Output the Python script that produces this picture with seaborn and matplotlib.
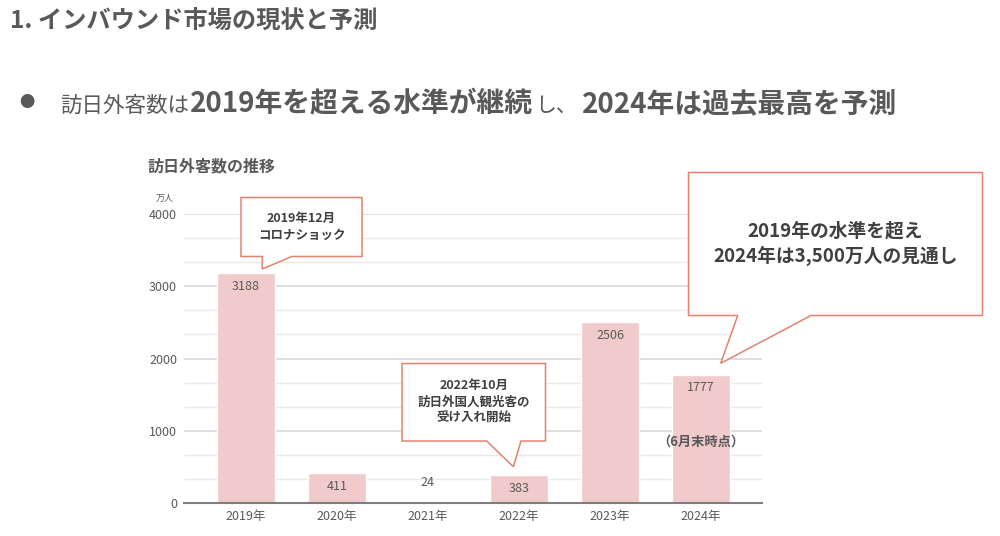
import matplotlib
matplotlib.use("Agg")
import matplotlib.pyplot as plt
import seaborn as sns
import pandas as pd
from matplotlib.patches import Polygon
from matplotlib.ticker import MultipleLocator

# ---- data ----
years = ["2019年", "2020年", "2021年", "2022年", "2023年", "2024年"]
visitors = [3188, 411, 24, 383, 2506, 1777]
y_ticks = [0, 1000, 2000, 3000, 4000]

title = "1. インバウンド市場の現状と予測"
headline_parts = ["訪日外客数は", "2019年を超える水準が継続", "し、", "2024年は過去最高を予測"]
chart_title = "訪日外客数の推移"
unit_label = "万人"
note_2024 = "（6月末時点）"
callout_texts = ["2019年12月\nコロナショック",
                 "2022年10月\n訪日外国人観光客の\n受け入れ開始",
                 "2019年の水準を超え\n2024年は3,500万人の見通し"]

# ---- style ----
sns.set_theme(style="white")
plt.rcParams["font.family"] = ["Noto Sans CJK JP", "DejaVu Sans"]

W, H = 1000, 536
fig = plt.figure(figsize=(W / 100, H / 100), dpi=100)
fig.patch.set_facecolor("white")

def fx(px):
    return px / W

def fy(py):
    return 1 - py / H

GREY = "#595959"
DARK = "#404040"
BAR = "#F1CBCC"
EDGE = "#E4826E"

ax = fig.add_axes([fx(184), fy(502.7), fx(762) - fx(184), (502.7 - 214.3) / H])
df = pd.DataFrame({"year": years, "visitors": visitors})
sns.barplot(data=df, x="year", y="visitors", color=BAR, saturation=1,
            width=0.64, ax=ax, zorder=2)
ax.set_xlim(-0.68, 5.67)
ax.set_ylim(0, 4000)
ax.set_yticks(y_ticks)
ax.yaxis.set_minor_locator(MultipleLocator(1000 / 3))
ax.grid(axis="y", which="major", color="#D9D9D9", lw=1.2, zorder=0)
ax.grid(axis="y", which="minor", color="#EAEAEA", lw=1.0, zorder=0)
ax.set_axisbelow(True)
for s in ["left", "right", "top"]:
    ax.spines[s].set_visible(False)
ax.spines["bottom"].set_color("#7F7F7F")
ax.spines["bottom"].set_linewidth(1.5)
ax.set_xlabel("")
ax.set_ylabel("")
ax.tick_params(axis="y", which="both", length=0, pad=5, labelsize=9, labelcolor=GREY)
ax.tick_params(axis="x", length=0, pad=5, labelsize=9, labelcolor=GREY)

for i, v in enumerate(visitors):
    if v < 100:
        ax.annotate(str(v), (i, v), xytext=(0, 13), textcoords="offset points",
                    ha="center", va="center", fontsize=9, color=GREY)
    else:
        ax.annotate(str(v), (i, v), xytext=(0, -9.5), textcoords="offset points",
                    ha="center", va="center", fontsize=9, color=GREY)

ax.text(5, 850, note_2024, ha="center", va="center", fontsize=9.5,
        fontweight="bold", color=GREY)

# ---- texts ----
fig.text(fx(10), fy(22), title, ha="left", va="center", fontsize=17.5,
         fontweight="bold", color=GREY)
fig.text(fx(26.7), fy(103), "●", ha="center", va="center", fontsize=11, color=GREY)
piece_x = [60, 190, 535, 582]
piece_size = [15.5, 20, 15, 20]
piece_weight = ["normal", "bold", "normal", "bold"]
for t, x, s, w in zip(headline_parts, piece_x, piece_size, piece_weight):
    fig.text(fx(x), fy(112), t, ha="left", va="baseline", fontsize=s,
             fontweight=w, color=GREY)

fig.text(fx(147), fy(166), chart_title, ha="left", va="center", fontsize=11.5,
         fontweight="bold", color=GREY)
fig.text(fx(165), fy(198), unit_label, ha="center", va="center", fontsize=6.5, color=GREY)

# ---- callouts ----
def callout(box, tail, text, size):
    x0, y0, x1, y1 = box
    bl, br, tx, ty = tail
    pts = [(x0, y0), (x1, y0), (x1, y1), (br, y1), (tx, ty), (bl, y1), (x0, y1)]
    poly = Polygon([(fx(a), fy(b)) for a, b in pts], closed=True,
                   transform=fig.transFigure, facecolor="white",
                   edgecolor=EDGE, lw=1.1, zorder=5)
    fig.add_artist(poly)
    fig.text(fx((x0 + x1) / 2), fy((y0 + y1) / 2), text, ha="center", va="center",
             fontsize=size, fontweight="bold", color=DARK, linespacing=1.35,
             zorder=6)

callout((241, 197.5, 362, 256.5), (262.3, 291.7, 262.3, 269), callout_texts[0], 9)
callout((402, 363.5, 545.5, 441), (486.7, 521, 513.3, 466.7), callout_texts[1], 9)
callout((688.5, 172.5, 982.5, 315.5), (737.7, 811, 720.7, 363.3), callout_texts[2], 13.5)

fig.savefig("out.png", dpi=100, facecolor="white")
